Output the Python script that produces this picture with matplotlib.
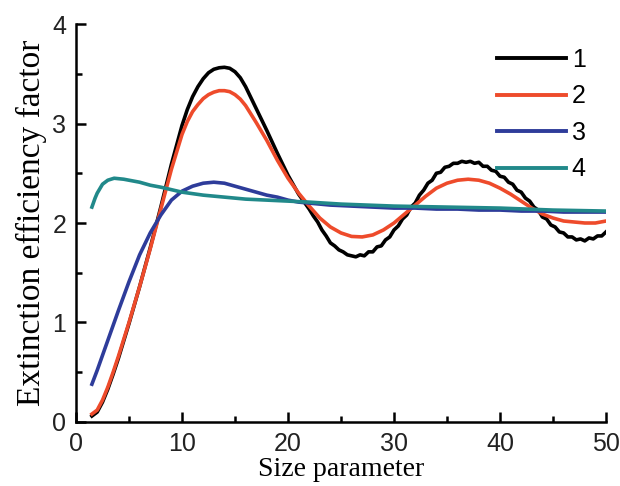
import matplotlib
matplotlib.use("Agg")
import matplotlib.pyplot as plt
from matplotlib.ticker import MultipleLocator

# ---------------- data ----------------
black_x = [1.5, 2, 2.5, 3, 3.5, 4, 5, 6, 7, 8, 9, 10, 10.5, 11, 11.5, 12, 12.5, 13, 13.5, 14, 14.5, 15,
           15.5, 16, 17, 18, 19, 20, 21,
           22.0, 22.4, 22.8, 23.2, 23.6, 24.0, 24.4, 24.8, 25.2, 25.6, 26.0, 26.4, 26.8, 27.2, 27.6,
           28.0, 28.4, 28.8, 29.2, 29.6, 30.0, 30.4, 30.8, 31.2, 31.6, 32.0, 32.4, 32.8, 33.2, 33.6,
           34.0, 34.4, 34.8, 35.2, 35.6, 36.0, 36.4, 36.8, 37.2, 37.6, 38.0, 38.4, 38.8, 39.2, 39.6,
           40.0, 40.4, 40.8, 41.2, 41.6, 42.0, 42.4, 42.8, 43.2, 43.6, 44.0, 44.4, 44.8, 45.2, 45.6,
           46.0, 46.4, 46.8, 47.2, 47.6, 48.0, 48.4, 48.8, 49.2, 49.6, 50.0]
black_y = [0.06, 0.10, 0.20, 0.33, 0.48, 0.64, 0.99, 1.36, 1.75, 2.16, 2.59, 2.98, 3.14, 3.27, 3.37,
           3.45, 3.51, 3.545, 3.56, 3.565, 3.555, 3.52, 3.46, 3.37, 3.15, 2.93, 2.70, 2.48, 2.29,
           2.14, 2.07, 2.01, 1.93, 1.87, 1.80, 1.77, 1.73, 1.71, 1.68, 1.67, 1.66, 1.68, 1.67, 1.71,
           1.71, 1.76, 1.77, 1.83, 1.86, 1.93, 1.97, 2.04, 2.08, 2.16, 2.20, 2.28, 2.33, 2.40, 2.43,
           2.50, 2.51, 2.56, 2.57, 2.60, 2.60, 2.62, 2.61, 2.62, 2.60, 2.61, 2.57, 2.57, 2.53, 2.52,
           2.47, 2.46, 2.41, 2.39, 2.33, 2.31, 2.25, 2.22, 2.16, 2.13, 2.06, 2.04, 1.98, 1.96, 1.91,
           1.90, 1.86, 1.86, 1.83, 1.84, 1.82, 1.85, 1.84, 1.87, 1.87, 1.91]

red_x = [1.5, 2, 2.5, 3, 3.5, 4, 5, 6, 7, 8, 9, 10, 10.5, 11, 11.5, 12, 12.5, 13, 13.5, 14, 14.5, 15,
         15.5, 16, 17, 18, 19, 20, 21, 22, 23, 24, 25, 26, 27, 28, 29, 30, 31, 32, 33, 34, 35, 36,
         37, 38, 39, 40, 41, 42, 43, 44, 45, 46, 47, 48, 49, 50]
red_y = [0.08, 0.12, 0.22, 0.35, 0.50, 0.66, 1.00, 1.36, 1.74, 2.14, 2.54, 2.89, 3.02, 3.12, 3.19,
         3.25, 3.29, 3.315, 3.33, 3.33, 3.32, 3.29, 3.245, 3.18, 3.01, 2.83, 2.63, 2.45, 2.30, 2.17,
         2.05, 1.96, 1.90, 1.865, 1.86, 1.88, 1.93, 2.00, 2.09, 2.18, 2.27, 2.35, 2.40, 2.43, 2.44,
         2.43, 2.40, 2.35, 2.29, 2.22, 2.15, 2.09, 2.05, 2.02, 2.01, 2.00, 2.00, 2.02]

blue_x = [1.5, 2, 2.5, 3, 4, 5, 6, 7, 7.5, 8, 9, 10, 11, 12, 13, 14, 15, 16, 17, 18, 19, 20, 21, 22,
          24, 26, 28, 30, 32, 34, 36, 38, 40, 42, 44, 46, 48, 50]
blue_y = [0.38, 0.52, 0.67, 0.82, 1.12, 1.41, 1.68, 1.90, 1.99, 2.08, 2.23, 2.32, 2.37, 2.40, 2.41, 2.40,
          2.37, 2.34, 2.31, 2.28, 2.26, 2.23, 2.21, 2.20, 2.18, 2.17, 2.16, 2.15, 2.15, 2.14, 2.14,
          2.13, 2.13, 2.12, 2.12, 2.11, 2.11, 2.11]

teal_x = [1.5, 1.8, 2, 2.5, 3, 3.6, 4.5, 5, 6, 7, 8, 10, 12, 14, 16, 18, 20, 22, 25, 30, 35, 40, 45, 50]
teal_y = [2.16, 2.25, 2.30, 2.39, 2.43, 2.45, 2.44, 2.43, 2.41, 2.38, 2.36, 2.31, 2.28, 2.26, 2.24, 2.23,
          2.22, 2.21, 2.19, 2.17, 2.16, 2.15, 2.13, 2.12]

series_labels = ["1", "2", "3", "4"]
x_ticks = [0, 10, 20, 30, 40, 50]
y_ticks = [0, 1, 2, 3, 4]
x_label = "Size parameter"
y_label = "Extinction efficiency factor"

# ---------------- plot ----------------
fig = plt.figure(figsize=(6.2, 4.86), dpi=100)
ax = fig.add_axes([0.1226, 0.1317, 0.8548, 0.8189])

colors = ["#000000", "#EE4B2B", "#2E3C9A", "#21898A"]
lw = 2.6
ax.plot(black_x, black_y, color=colors[0], lw=lw, label=series_labels[0], solid_joinstyle="round")
ax.plot(red_x, red_y, color=colors[1], lw=lw, label=series_labels[1], solid_joinstyle="round")
ax.plot(blue_x, blue_y, color=colors[2], lw=lw, label=series_labels[2], solid_joinstyle="round")
ax.plot(teal_x, teal_y, color=colors[3], lw=lw, label=series_labels[3], solid_joinstyle="round")

ax.set_xlim(0, 50)
ax.set_ylim(0, 4)
ax.set_xticks(x_ticks)
ax.set_yticks(y_ticks)
ax.xaxis.set_minor_locator(MultipleLocator(5))
ax.yaxis.set_minor_locator(MultipleLocator(0.5))

for s in ["top", "right"]:
    ax.spines[s].set_visible(False)
for s in ["left", "bottom"]:
    ax.spines[s].set_linewidth(1.8)

ax.tick_params(which="both", direction="in", width=1.8, top=False, right=False)
ax.tick_params(which="major", length=7, pad=7)
ax.tick_params(which="minor", length=4.5)
for lab in ax.get_xticklabels() + ax.get_yticklabels():
    lab.set_fontfamily("Liberation Sans")
    lab.set_fontsize(18)
    lab.set_color("#222222")

ax.set_xlabel(x_label, family="Liberation Serif", fontsize=20, labelpad=1)
ax.set_ylabel(y_label, family="Liberation Serif", fontsize=24, labelpad=4)

leg = ax.legend(loc="upper left", bbox_to_anchor=(0.794, 0.94), frameon=False,
                prop={"family": "Liberation Sans", "size": 18},
                handlelength=2.75, handletextpad=0.25, labelspacing=0.5, borderpad=0,
                borderaxespad=0)
for line in leg.get_lines():
    line.set_linewidth(2.8)

fig.savefig("out.png", dpi=100, facecolor="white")
